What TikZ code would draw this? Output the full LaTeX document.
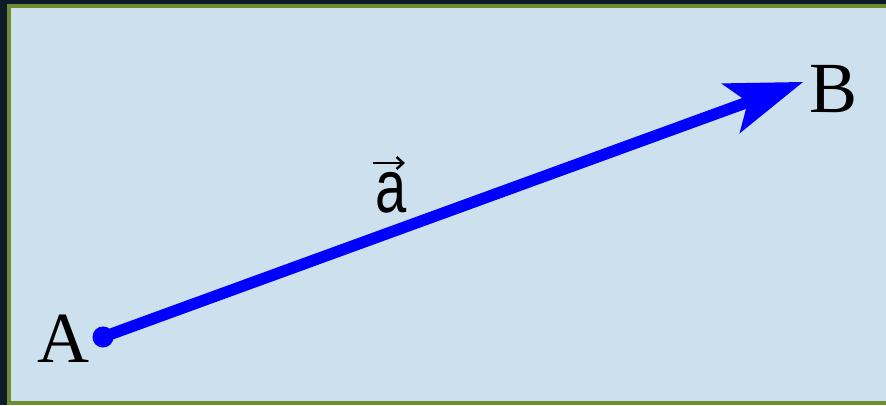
\documentclass[tikz,border=0pt]{standalone}
\usepackage{fontspec}
\setmainfont{Liberation Serif}
\newfontfamily\vecfont{Liberation Sans}
\usetikzlibrary{arrows.meta}
\definecolor{bgdark}{HTML}{0D1B2A}
\definecolor{framegreen}{HTML}{6F8C32}
\definecolor{panelblue}{HTML}{CDE0EE}
\begin{document}
\begin{tikzpicture}[x=0.75pt,y=-0.75pt,
  ptlabel/.style={font=\fontsize{54}{60}\selectfont, inner sep=0pt, anchor=base, text=black},
  veclabel/.style={font=\vecfont\fontsize{56}{60}\selectfont, inner sep=0pt, anchor=base, text=black},
  vecline/.style={blue, line width=8.6pt, -{Stealth[length=58pt,width=40pt,inset=14pt,line width=0pt]}},
  accent/.style={black, line width=1.8pt, -{Straight Barb[length=5pt,width=9pt]}}]
\useasboundingbox (0,0) rectangle (886,405);
\fill[bgdark] (0,0) rectangle (886,405);
\fill[framegreen] (7,4) rectangle (886,405);
\fill[panelblue] (11,8) rectangle (886,401);
\coordinate (pA) at (103,337);
\coordinate (pB) at (803,82);
\draw[vecline] (pA) -- (pB);
\fill[blue] (pA) circle[radius=7.9pt];
\node[ptlabel] (A) at (63.5,362) {A};
\node[ptlabel] (B) at (834,112) {B};
\node[veclabel] (a) at (391.5,212) {\scalebox{0.75}[1]{a}};
\coordinate (acs) at (373,163);
\coordinate (ace) at (405,163);
\draw[accent] (acs) -- (ace);
\end{tikzpicture}
\end{document}
